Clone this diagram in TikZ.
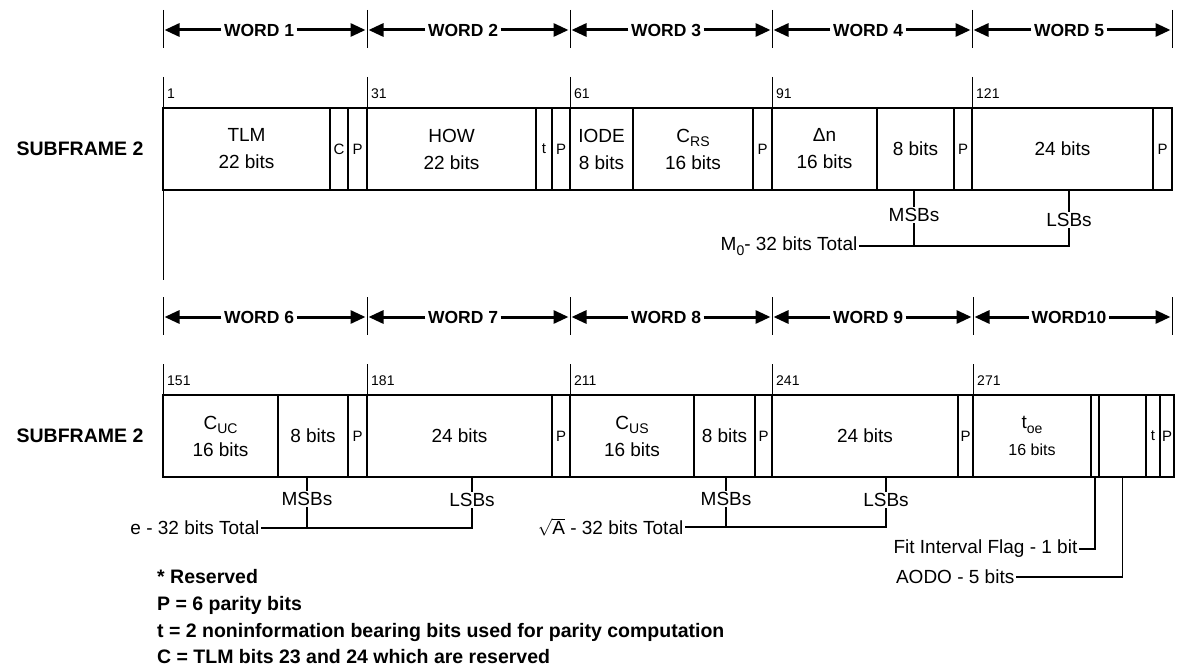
\documentclass[tikz,border=0pt]{standalone}
\usepackage{fontspec}
\setmainfont{Liberation Sans}
\usetikzlibrary{arrows.meta}
\newcommand\sbs[1]{\raisebox{-0.45ex}{\fontsize{14}{14}\selectfont #1}}
\newcommand\fs[2]{\fontsize{#1}{#2}\selectfont}
\newcommand\cellat[6][]{\node[cell, minimum width={#4-#3}, minimum height=82, #1] (#2) at ({(#3+#4)/2},{#5}) {#6};}
\begin{document}
\begin{tikzpicture}[x=1pt,y=-1pt,
  cell/.style={draw, line width=2.6pt, inner sep=0pt, align=center, font=\fs{19}{27}},
  small/.style={font=\fs{15}{16}},
  thinln/.style={line width=1pt},
  conn/.style={line width=1.1pt},
  warrow/.style={line width=3pt, -{Triangle[length=15pt,width=13pt]}, shorten >=1.5pt},
  wlabel/.style={font=\bfseries\fs{17.5}{20}, inner sep=2.5pt},
  num/.style={font=\fs{14}{15}, anchor=west, inner sep=0pt},
  sublab/.style={font=\bfseries\fs{19.5}{22}},
  lbl/.style={font=\fs{19}{22}, inner sep=1.5pt},
  legend/.style={font=\bfseries\fs{19.5}{22}, anchor=west, inner sep=0pt}
]
\fill[white] (0,0) rectangle (1182,668);
\useasboundingbox (0,0) rectangle (1182,668);

% ---------- Row 1 : word arrows ----------
\foreach \x/\n in {163/0,367/1,570/2,772/3,972/4,1172/5}{
  \draw[thinln] (\x,10) -- (\x,48);
  \coordinate (p\n) at (\x,30);
}
\node[wlabel] (w1) at (259,30) {WORD 1};
\node[wlabel] (w2) at (463,30) {WORD 2};
\node[wlabel] (w3) at (666,30) {WORD 3};
\node[wlabel] (w4) at (868,30) {WORD 4};
\node[wlabel] (w5) at (1069,30) {WORD 5};
\draw[warrow] (w1.west) -- (p0); \draw[warrow] (w1.east) -- (p1);
\draw[warrow] (w2.west) -- (p1); \draw[warrow] (w2.east) -- (p2);
\draw[warrow] (w3.west) -- (p2); \draw[warrow] (w3.east) -- (p3);
\draw[warrow] (w4.west) -- (p3); \draw[warrow] (w4.east) -- (p4);
\draw[warrow] (w5.west) -- (p4); \draw[warrow] (w5.east) -- (p5);

% ---------- Row 1 : bit numbers ----------
\draw[thinln] (163,77) -- (163,280);
\foreach \x in {367,570,772,972}{ \draw[thinln] (\x,77) -- (\x,108); }
\node[num] (n1) at (167,94) {1};
\node[num] (n31) at (371,94) {31};
\node[num] (n61) at (574,94) {61};
\node[num] (n91) at (776,94) {91};
\node[num] (n121) at (976,94) {121};

\node[sublab] (s1) at (80,149) {SUBFRAME 2};

% ---------- Row 1 : cells ----------
\cellat{a1}{163}{330}{149}{TLM\\22 bits}
\cellat[small]{a2}{330}{348}{149}{C}
\cellat[small]{a3}{348}{367}{149}{P}
\cellat{a4}{367}{536}{149}{HOW\\22 bits}
\cellat[small]{a5}{536}{552}{149}{t}
\cellat[small]{a6}{552}{570}{149}{P}
\cellat{a7}{570}{633}{149}{IODE\\8 bits}
\cellat{a8}{633}{753}{149}{C\sbs{RS}\\16 bits}
\cellat[small]{a9}{753}{772}{149}{P}
\cellat{a10}{772}{877}{149}{Δn\\16 bits}
\cellat{a11}{877}{954}{149}{8 bits}
\cellat[small]{a12}{954}{972}{149}{P}
\cellat{a13}{972}{1153}{149}{24 bits}
\cellat[small]{a14}{1153}{1172}{149}{P}

% ---------- Row 1 : M0 ----------
\node[lbl] (m1) at (914,215) {MSBs};
\node[lbl] (l1) at (1069,220) {LSBs};
\node[lbl, anchor=east] (tot1) at (859,246) {M\sbs{0}- 32 bits Total};
\draw[conn] (m1.north) -- (m1.north |- a11.south);
\draw[conn] (l1.north) -- (l1.north |- a13.south);
\draw[conn] (m1.south) -- (m1.south |- tot1.east);
\draw[conn] (tot1.east) -| (l1.south);

% ---------- Row 2 : word arrows ----------
\foreach \x/\n in {163/0,367/1,570/2,772/3,973/4,1172/5}{
  \draw[thinln] (\x,297) -- (\x,335);
  \coordinate (q\n) at (\x,317);
}
\node[wlabel] (w6) at (259,317) {WORD 6};
\node[wlabel] (w7) at (463,317) {WORD 7};
\node[wlabel] (w8) at (666,317) {WORD 8};
\node[wlabel] (w9) at (868,317) {WORD 9};
\node[wlabel] (w10) at (1069,317) {WORD10};
\draw[warrow] (w6.west) -- (q0); \draw[warrow] (w6.east) -- (q1);
\draw[warrow] (w7.west) -- (q1); \draw[warrow] (w7.east) -- (q2);
\draw[warrow] (w8.west) -- (q2); \draw[warrow] (w8.east) -- (q3);
\draw[warrow] (w9.west) -- (q3); \draw[warrow] (w9.east) -- (q4);
\draw[warrow] (w10.west) -- (q4); \draw[warrow] (w10.east) -- (q5);

% ---------- Row 2 : bit numbers ----------
\foreach \x in {163,367,570,772,973}{ \draw[thinln] (\x,364) -- (\x,395); }
\node[num] (n151) at (167,381) {151};
\node[num] (n181) at (371,381) {181};
\node[num] (n211) at (574,381) {211};
\node[num] (n241) at (776,381) {241};
\node[num] (n271) at (977,381) {271};

\node[sublab] (s2) at (80,436) {SUBFRAME 2};

% ---------- Row 2 : cells ----------
\cellat{b1}{163}{278}{436}{C\sbs{UC}\\16 bits}
\cellat{b2}{278}{348}{436}{8 bits}
\cellat[small]{b3}{348}{367}{436}{P}
\cellat{b4}{367}{552}{436}{24 bits}
\cellat[small]{b5}{552}{570}{436}{P}
\cellat{b6}{570}{694}{436}{C\sbs{US}\\16 bits}
\cellat{b7}{694}{755}{436}{8 bits}
\cellat[small]{b8}{755}{772}{436}{P}
\cellat{b9}{772}{958}{436}{24 bits}
\cellat[small]{b10}{958}{973}{436}{P}
\cellat{b11}{973}{1091}{436}{t\sbs{oe}\\\fs{16}{24}16 bits}
\cellat{b12}{1091}{1099}{436}{}
\cellat{b13}{1099}{1146}{436}{}
\cellat[small]{b14}{1146}{1160}{436}{t}
\cellat[small]{b15}{1160}{1174}{436}{P}

% ---------- Row 2 : e ----------
\node[lbl] (m2) at (307,499) {MSBs};
\node[lbl] (l2) at (472,500) {LSBs};
\node[lbl, anchor=east] (tot2) at (261,528) {e - 32 bits Total};
\draw[conn] (m2.north) -- (m2.north |- b2.south);
\draw[conn] (l2.north) -- (l2.north |- b4.south);
\draw[conn] (m2.south) -- (m2.south |- tot2.east);
\draw[conn] (tot2.east) -| (l2.south);

% ---------- Row 2 : sqrt A ----------
\node[lbl] (m3) at (726,499) {MSBs};
\node[lbl] (l3) at (886,500) {LSBs};
\node[lbl, anchor=east] (tot3) at (685,527) {$\sqrt{\mbox{A}}$ - 32 bits Total};
\draw[conn] (m3.north) -- (m3.north |- b7.south);
\draw[conn] (l3.north) -- (l3.north |- b9.south);
\draw[conn] (m3.south) -- (m3.south |- tot3.east);
\draw[conn] (tot3.east) -| (l3.south);

% ---------- Fit interval / AODO ----------
\node[lbl, anchor=east] (fit) at (1079,549) {Fit Interval Flag - 1 bit};
\node[lbl, anchor=east] (aodo) at (1016,577) {AODO - 5 bits};
\draw[conn] (fit.east) -| (b12.south);
\draw[conn] (aodo.east) -| (b13.south);

% ---------- Legend ----------
\node[legend] (g1) at (157,577) {* Reserved};
\node[legend] (g2) at (157,605) {P = 6 parity bits};
\node[legend] (g3) at (157,632) {t = 2 noninformation bearing bits used for parity computation};
\node[legend] (g4) at (157,657) {C = TLM bits 23 and 24 which are reserved};
\end{tikzpicture}
\end{document}
